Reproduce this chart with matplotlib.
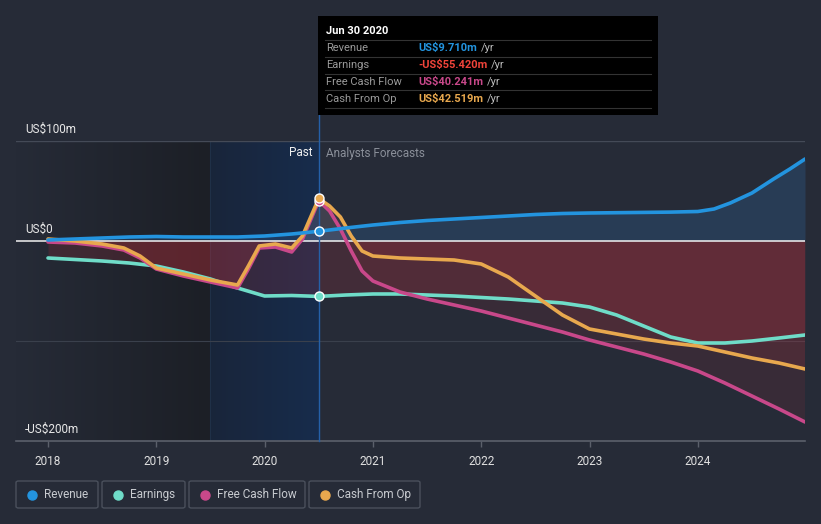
import numpy as np
import matplotlib
matplotlib.use("Agg")
import matplotlib.pyplot as plt
from matplotlib.patches import Rectangle, FancyBboxPatch
from matplotlib.lines import Line2D

plt.rcParams['font.family'] = ['Roboto', 'DejaVu Sans']

# ---------------- data (US$ millions) ----------------
rev_x = [2018.0, 2018.25, 2018.5, 2018.75, 2019.0, 2019.25, 2019.5, 2019.75, 2020.0, 2020.25, 2020.5,
         2020.75, 2021.0, 2021.25, 2021.5, 2021.75, 2022.0, 2022.25, 2022.5, 2022.75, 2023.0, 2023.25,
         2023.5, 2023.75, 2024.0, 2024.15, 2024.3, 2024.5, 2024.7, 2024.85, 2024.99]
rev_y = [1, 2, 3, 4, 4.5, 4, 4, 4, 5, 7, 9.71,
         13, 16, 18.5, 20.5, 22, 23.5, 25, 26.5, 27.5, 28, 28.3,
         28.6, 28.9, 29.5, 32, 38, 48, 62, 72, 82]

earn_x = [2018.0, 2018.25, 2018.5, 2018.75, 2019.0, 2019.25, 2019.5, 2019.75, 2020.0, 2020.25, 2020.5,
          2020.75, 2021.0, 2021.25, 2021.5, 2021.75, 2022.0, 2022.25, 2022.5, 2022.75, 2023.0, 2023.25,
          2023.5, 2023.75, 2024.0, 2024.25, 2024.5, 2024.75, 2024.99]
earn_y = [-17, -18.5, -20, -22, -25, -31, -38, -47, -55, -54.5, -55.42,
          -54, -53, -53, -54, -55, -56.5, -58, -60, -62, -66, -74,
          -85, -96, -102, -102, -100, -97, -94]

fcf_x = [2018.0, 2018.25, 2018.5, 2018.7, 2018.85, 2019.0, 2019.25, 2019.5, 2019.75, 2019.85, 2019.95,
         2020.1, 2020.25, 2020.35, 2020.5, 2020.6, 2020.7, 2020.8, 2020.9, 2021.0, 2021.25, 2021.5,
         2021.75, 2022.0, 2022.25, 2022.5, 2022.75, 2023.0, 2023.25, 2023.5, 2023.75, 2024.0, 2024.25,
         2024.5, 2024.75, 2024.99]
fcf_y = [-1, -2, -5, -9, -17, -28, -35, -41, -47, -28, -7,
         -6, -11, 2, 40.241, 30, 12, -10, -30, -40, -51, -58,
         -64, -70, -77, -84, -91, -99, -106, -113, -121, -130, -142,
         -155, -168, -181]

cfo_x = [2018.0, 2018.25, 2018.5, 2018.7, 2018.85, 2019.0, 2019.25, 2019.5, 2019.75, 2019.85, 2019.95,
         2020.1, 2020.25, 2020.35, 2020.5, 2020.6, 2020.7, 2020.8, 2020.9, 2021.0, 2021.25, 2021.5,
         2021.75, 2022.0, 2022.25, 2022.5, 2022.75, 2023.0, 2023.25, 2023.5, 2023.75, 2024.0, 2024.25,
         2024.5, 2024.75, 2024.99]
cfo_y = [2, 0, -3, -7, -15, -27, -33, -39, -44, -25, -5,
         -3, -7, 5, 42.519, 35, 24, 5, -10, -15, -17, -18,
         -19, -23, -36, -55, -74, -88, -93, -98, -102, -105, -111,
         -117, -122, -128]

year_ticks = [2018, 2019, 2020, 2021, 2022, 2023, 2024]
cursor_x = 2020.5
past_start = 2019.5

tooltip_title = "Jun 30 2020"
tooltip_labels = ["Revenue", "Earnings", "Free Cash Flow", "Cash From Op"]
tooltip_values = ["US$9.710m", "-US$55.420m", "US$40.241m", "US$42.519m"]

# ---------------- style ----------------
BG = "#262b37"
C_REV = "#2394df"
C_EARN = "#6fdcc8"
C_FCF = "#c8488a"
C_CFO = "#e8a84e"
series_colors = [C_REV, C_EARN, C_FCF, C_CFO]
tooltip_colors = [C_REV, "#f0443a", C_FCF, C_CFO]

W, H = 821, 524
fig = plt.figure(figsize=(W / 100, H / 100), dpi=100, facecolor=BG)

def fx(px):
    return px / W

def fy(py):
    return 1 - py / H

ax_l, ax_r, ax_t, ax_b = 16, 805, 141, 441
ax = fig.add_axes([fx(ax_l), fy(ax_b), fx(ax_r - ax_l), (ax_b - ax_t) / H])
ax.set_facecolor(BG)
x0 = 2018 - (48 - ax_l) / 108.3
x1 = 2018 + (ax_r - 48) / 108.3
ax.set_xlim(x0, x1)
ax.set_ylim(-200, 100)
for s in ax.spines.values():
    s.set_visible(False)

# darker gradient region (left) and past highlight
grad = np.linspace(0, 1, 256).reshape(1, -1)
from matplotlib.colors import LinearSegmentedColormap
cm_dark = LinearSegmentedColormap.from_list("d", [BG, "#1c1f26"])
ax.imshow(grad, extent=[x0, past_start, -200, 100], aspect="auto", cmap=cm_dark, zorder=0)
cm_blue = LinearSegmentedColormap.from_list("b", ["#19253a", "#172c4c"])
ax.imshow(grad, extent=[past_start, cursor_x, -200, 100], aspect="auto", cmap=cm_blue, zorder=0)
ax.axvline(past_start, color="#1f3047", lw=0.8, zorder=0.5)

# gridlines
ax.axhline(100, color="#444a57", lw=1, zorder=1)
ax.axhline(-100, color="#3a404c", lw=0.8, zorder=1)

# fills
def fills(x, y, pos_color, pos_alpha, neg_alpha):
    x = np.asarray(x); y = np.asarray(y)
    ax.fill_between(x, y, 0, where=y >= 0, interpolate=True, color=pos_color, alpha=pos_alpha, lw=0, zorder=2)
    ax.fill_between(x, y, 0, where=y <= 0, interpolate=True, color="#d8343e", alpha=neg_alpha, lw=0, zorder=2)

fills(rev_x, rev_y, "#2f6fb0", 0.25, 0.12)
fills(earn_x, earn_y, "#9a8aa0", 0.1, 0.16)
fills(fcf_x, fcf_y, "#9a8aa0", 0.12, 0.1)
fills(cfo_x, cfo_y, "#9a8aa0", 0.12, 0.12)

ax.axhline(0, color="#f2f2f2", lw=1.1, zorder=3)

# lines
lw = 2.6
ax.plot(earn_x, earn_y, color=C_EARN, lw=lw, zorder=4, solid_capstyle="round", solid_joinstyle="round")
ax.plot(fcf_x, fcf_y, color=C_FCF, lw=lw, zorder=5, solid_capstyle="round", solid_joinstyle="round")
ax.plot(cfo_x, cfo_y, color=C_CFO, lw=lw, zorder=6, solid_capstyle="round", solid_joinstyle="round")
ax.plot(rev_x, rev_y, color=C_REV, lw=lw, zorder=7, solid_capstyle="round", solid_joinstyle="round")

# cursor line
ax.plot([cursor_x, cursor_x], [-200, 126], color="#2560a8", lw=1, zorder=8, clip_on=False)

# markers at cursor
for xs, ys, c in [(rev_x, rev_y, C_REV), (earn_x, earn_y, C_EARN), (fcf_x, fcf_y, C_FCF), (cfo_x, cfo_y, C_CFO)]:
    v = ys[xs.index(cursor_x)]
    ax.scatter([cursor_x], [v], s=42, color=c, edgecolor="white", linewidth=1, zorder=9)

# x axis
ax.axhline(-200, color="#5b606b", lw=1.2, zorder=3, clip_on=False)
ax.set_xticks(year_ticks)
ax.set_xticklabels([str(y) for y in year_ticks])
ax.tick_params(axis="x", colors="#5b606b", length=4, width=1, labelcolor="#e0e0e0", labelsize=8.5, pad=6)
ax.set_yticks([])

# y labels
for txt, py in [("US$100m", 129), ("US$0", 229), ("-US$200m", 429)]:
    fig.text(fx(25), fy(py), txt, color="#e8e8e8", fontsize=8.5, ha="left", va="center")

fig.text(fx(312), fy(153), "Past", color="#f0f0f0", fontsize=8.5, ha="right", va="center")
fig.text(fx(326), fy(153), "Analysts Forecasts", color="#8a8f99", fontsize=8.5, ha="left", va="center")

# tooltip
tt = Rectangle((fx(318), fy(115)), fx(658 - 318), (115 - 16) / H, transform=fig.transFigure,
               facecolor="#000000", edgecolor="none", zorder=20)
fig.patches.append(tt)
fig.text(fx(326), fy(31), tooltip_title, color="white", fontsize=8, fontweight="bold", ha="left", va="center", zorder=21)
rows_y = [48, 65, 82, 99]
for i, (lab, val, c) in enumerate(zip(tooltip_labels, tooltip_values, tooltip_colors)):
    ry = rows_y[i]
    fig.add_artist(Line2D([fx(325), fx(651)], [fy(ry - 8.5), fy(ry - 8.5)], color="#333333", lw=0.8, zorder=21))
    fig.text(fx(326), fy(ry), lab, color="#9a9a9a", fontsize=8, ha="left", va="center", zorder=21)
    t = fig.text(fx(418), fy(ry), val, color=c, fontsize=8, fontweight="bold", ha="left", va="center", zorder=21)
    fig.canvas.draw()
    bb = t.get_window_extent()
    fig.text(bb.x1 / W + fx(4), fy(ry), "/yr", color="#bbbbbb", fontsize=8, ha="left", va="center", zorder=21)
fig.add_artist(Line2D([fx(325), fx(651)], [fy(107.5), fy(107.5)], color="#333333", lw=0.8, zorder=21))

# legend boxes
legend_items = ["Revenue", "Earnings", "Free Cash Flow", "Cash From Op"]
boxes = [(16, 98), (102, 185), (189, 305), (309, 420)]
for (bl, br), lab, c in zip(boxes, legend_items, series_colors):
    p = FancyBboxPatch((fx(bl), fy(508)), fx(br - bl), 27 / H, boxstyle="round,pad=0,rounding_size=0.003",
                       transform=fig.transFigure, facecolor="none", edgecolor="#4a505c", lw=1)
    fig.patches.append(p)
    fig.add_artist(Line2D([fx(bl + 16)], [fy(494.5)], marker="o", markersize=6.5, color=c, lw=0))
    fig.text(fx(bl + 28), fy(494.5), lab, color="#c8cbd0", fontsize=8.5, ha="left", va="center")

fig.savefig("out.png", dpi=100, facecolor=BG)
